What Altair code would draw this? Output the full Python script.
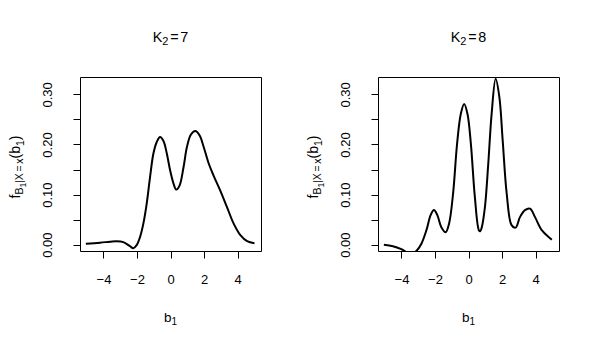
import altair as alt
import pandas as pd

# ---- data ----
b1_k7 = [-5.05, -4.21, -3.61, -3.21, -2.81, -2.42, -2.22, -2.02, -1.82, -1.62, -1.42,
         -1.22, -1.02, -0.82, -0.62, -0.42, -0.22, -0.02, 0.18, 0.34, 0.54, 0.78,
         0.98, 1.22, 1.48, 1.74, 1.98, 2.28, 2.57, 2.97, 3.37, 3.77, 4.17, 4.57, 5.01]
f_k7 = [0.002, 0.004, 0.006, 0.007, 0.005, -0.003, -0.007, -0.001, 0.015, 0.042, 0.082,
        0.135, 0.182, 0.205, 0.215, 0.207, 0.182, 0.148, 0.122, 0.110, 0.118, 0.155,
        0.195, 0.220, 0.227, 0.218, 0.195, 0.162, 0.138, 0.108, 0.075, 0.042, 0.019,
        0.007, 0.003]

b1_k8 = [-5.05, -4.51, -4.01, -3.81, -3.45, -3.11, -2.81, -2.51, -2.26, -2.06, -1.86,
         -1.62, -1.36, -1.16, -0.92, -0.68, -0.46, -0.26, -0.06, 0.14, 0.38, 0.62,
         0.70, 0.78, 0.98, 1.18, 1.38, 1.62, 1.84, 2.04, 2.28, 2.57, 2.81, 3.07,
         3.37, 3.67, 3.97, 4.37, 4.97]
f_k8 = [0.0, -0.003, -0.009, -0.0126, -0.02, -0.0126, 0.002, 0.029, 0.059, 0.069,
        0.059, 0.035, 0.025, 0.042, 0.102, 0.202, 0.261, 0.281, 0.261, 0.202, 0.095,
        0.029, 0.027, 0.033, 0.075, 0.162, 0.261, 0.331, 0.295, 0.208, 0.102, 0.039,
        0.034, 0.055, 0.069, 0.072, 0.055, 0.029, 0.010]

x_ticks = [-4, -2, 0, 2, 4]
y_ticks = [0.0, 0.05, 0.10, 0.15, 0.20, 0.25, 0.30]
panel_titles = ["7", "8"]

FONT = "Liberation Sans"
W, H = 181, 174
# Arial/Liberation Sans advance widths (em)
ADV = {"f": 0.278, "B": 0.667, "1": 0.556, "|": 0.26, "X": 0.667, "=": 0.584,
       "x": 0.5, "(": 0.333, "b": 0.556, ")": 0.333, "K": 0.667, "2": 0.556,
       "7": 0.556, "8": 0.556, " ": 0.278}


def width(s, size):
    return sum(ADV[c] for c in s) * size


def txt(s, x, y, size, angle=0):
    return alt.Chart(pd.DataFrame({"t": [s]})).mark_text(
        font=FONT, fontSize=size, color="black", align="left",
        baseline="alphabetic", angle=angle
    ).encode(text="t:N", x=alt.value(x), y=alt.value(y))


def ylabel_layers():
    # f_{B_1 | X = x}(b_1), rotated, read bottom to top
    pieces = [("f", 14, 0), ("B", 10.5, 3), ("1", 8.5, 5.5), ("|X", 10.5, 3),
              (" ", 6, 3), ("=", 10.5, 3), (" ", 6, 3), ("x", 10.5, 3),
              ("(b", 14, 0), ("1", 10.5, 3.5), (")", 14, 0)]
    total = sum(width(p, s) for p, s, _ in pieces)
    y = H / 2 + 3 + total / 2
    base_x = -60
    out = []
    for p, s, dx in pieces:
        if p.strip():
            out.append(txt(p, base_x + dx, y, s, angle=270))
        y -= width(p, s)
    return out


def title_layers(k):
    pieces = [("K", 14.4, 0), ("2", 11, 3), (" ", 6, 0), ("=", 14.4, 0),
              (" ", 6, 0), (k, 14.4, 0)]
    total = sum(width(p, s) for p, s, _ in pieces)
    x = W / 2 - total / 2
    out = []
    for p, s, dy in pieces:
        if p.strip():
            out.append(txt(p, x, -35 + dy, s))
        x += width(p, s)
    return out


def xlabel_layers():
    wb = width("b", 13.5)
    w1 = width("1", 10)
    x = W / 2 - (wb + w1) / 2
    return [txt("b", x, 245, 13.5), txt("1", x + wb, 248, 10)]


def panel(bvals, fvals, k):
    df = pd.DataFrame({"b1": bvals, "f": fvals})
    line = alt.Chart(df).mark_line(
        color="black", strokeWidth=2, clip=True, interpolate="catmull-rom"
    ).encode(
        x=alt.X("b1:Q",
                scale=alt.Scale(domain=[-5.4, 5.4], nice=False, zero=False),
                axis=alt.Axis(values=x_ticks, format="d", title=None, grid=False,
                              domain=False, tickColor="black", tickSize=7,
                              tickWidth=1, labelFont=FONT, labelFontSize=13,
                              labelColor="black", labelPadding=15,
                              labelFlush=False, labelOverlap=False)),
        y=alt.Y("f:Q",
                scale=alt.Scale(domain=[-0.0126, 0.3347], nice=False, zero=False),
                axis=alt.Axis(values=y_ticks,
                              labelExpr="round(datum.value*20) % 2 == 0 ? format(datum.value, '.2f') : ''",
                              title=None, grid=False, domain=False,
                              tickColor="black", tickSize=7, tickWidth=1,
                              labelFont=FONT, labelFontSize=13, labelColor="black",
                              labelAngle=270, labelAlign="center",
                              labelBaseline="bottom", labelPadding=18.5,
                              labelFlush=False, labelOverlap=False)),
    )
    return alt.layer(line, *title_layers(k), *ylabel_layers(),
                     *xlabel_layers()).properties(width=W, height=H)


chart = alt.hconcat(
    panel(b1_k7, f_k7, panel_titles[0]),
    panel(b1_k8, f_k8, panel_titles[1]),
    spacing=44,
).properties(
    padding={"left": 0, "top": 21, "right": 5, "bottom": 5},
    background="white",
).configure_view(stroke="black", strokeWidth=1)

chart.save("out.html", embed_options={"renderer": "svg", "actions": False})
